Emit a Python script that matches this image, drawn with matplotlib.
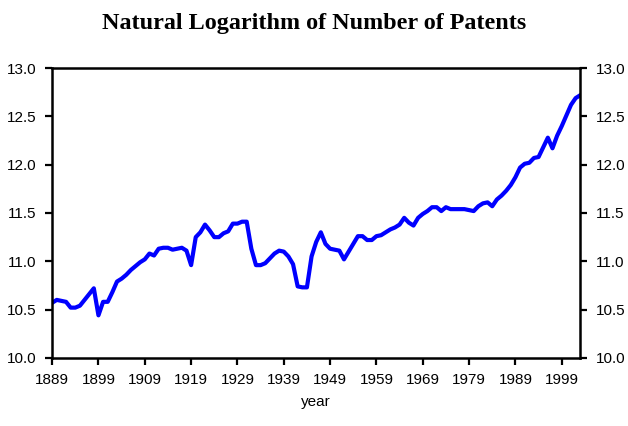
import numpy as np
import matplotlib
matplotlib.use("Agg")
import matplotlib.pyplot as plt

plt.rcParams['font.family'] = ['Liberation Sans', 'DejaVu Sans']

# annual series
years = np.arange(1889, 2004)
log_patents = [
    10.57, 10.60, 10.59, 10.58, 10.52, 10.52, 10.54, 10.60, 10.66, 10.72,  # 1889-1898
    10.44, 10.58, 10.58, 10.68, 10.79, 10.82, 10.86, 10.91, 10.95, 10.99,  # 1899-1908
    11.02, 11.08, 11.06, 11.13, 11.14, 11.14, 11.12, 11.13, 11.14, 11.11,  # 1909-1918
    10.96, 11.25, 11.30, 11.38, 11.32, 11.25, 11.25, 11.29, 11.31, 11.39,  # 1919-1928
    11.39, 11.41, 11.41, 11.13, 10.96, 10.96, 10.98, 11.03, 11.08, 11.11,  # 1929-1938
    11.10, 11.05, 10.97, 10.74, 10.73, 10.73, 11.05, 11.20, 11.30, 11.18,  # 1939-1948
    11.13, 11.12, 11.11, 11.02, 11.10, 11.18, 11.26, 11.26, 11.22, 11.22,  # 1949-1958
    11.26, 11.27, 11.30, 11.33, 11.35, 11.38, 11.45, 11.40, 11.37, 11.45,  # 1959-1968
    11.49, 11.52, 11.56, 11.56, 11.52, 11.56, 11.54, 11.54, 11.54, 11.54,  # 1969-1978
    11.53, 11.52, 11.57, 11.60, 11.61, 11.57, 11.64, 11.68, 11.73, 11.79,  # 1979-1988
    11.87, 11.97, 12.01, 12.02, 12.07, 12.08, 12.18, 12.28, 12.17, 12.30,  # 1989-1998
    12.40, 12.51, 12.62, 12.69, 12.72,                                      # 1999-2003
]
year_ticks = np.arange(1889, 2000, 10)
value_ticks = [10.0, 10.5, 11.0, 11.5, 12.0, 12.5, 13.0]

fig = plt.figure(figsize=(6.28, 4.26), dpi=100)
ax = fig.add_axes([0.083, 0.16, 0.841, 0.68])

ax.plot(years, log_patents, color='#0000ff', lw=3.0, solid_joinstyle='round')

ax.set_xlim(1889, 2003)
ax.set_ylim(10.0, 13.0)
ax.set_xticks(year_ticks)
ax.set_yticks(value_ticks)
ax.set_yticklabels(['%.1f' % v for v in value_ticks])
ax.tick_params(axis='both', direction='out', length=5, width=1.6,
               labelsize=11, colors='black')
ax.tick_params(axis='y', right=True, labelright=True, pad=6)
ax.tick_params(axis='x', pad=6)
for s in ax.spines.values():
    s.set_linewidth(1.8)

ax.set_xlabel('year', fontsize=11, labelpad=6)
fig.text(0.5, 0.944, 'Natural Logarithm of Number of Patents',
         ha='center', va='center', fontsize=17.4, fontweight='bold',
         family='Liberation Serif')

fig.savefig('out.png', dpi=100)
